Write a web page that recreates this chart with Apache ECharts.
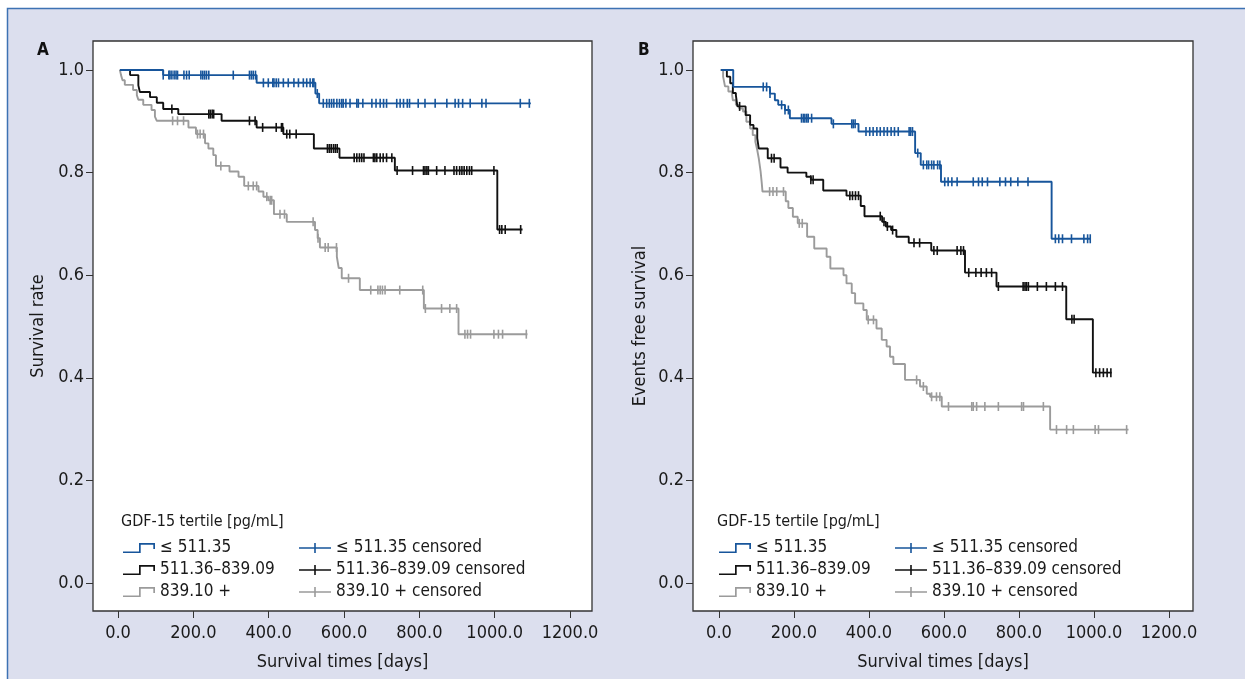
<!DOCTYPE html>
<html>
<head>
<meta charset="utf-8">
<script src="https://cdn.jsdelivr.net/npm/echarts@6/dist/echarts.min.js"></script>
<style>
  html, body { margin: 0; padding: 0; background: #fff; }
  #main { width: 1245px; height: 679px; }
</style>
</head>
<body>
<div id="main"></div>
<script>
var FONT = '"DejaVu Sans Condensed", "Liberation Sans Narrow", "DejaVu Sans", sans-serif';

// group names
var groups = ['≤ 511.35', '511.36–839.09', '839.10 +'];
var groupColors = ['#17559b', '#111111', '#9b9b9b'];
var xTicks = [0, 200, 400, 600, 800, 1000, 1200];
var yTicks = [0, 0.2, 0.4, 0.6, 0.8, 1.0];

// ---- panel A: survival rate ----
var aBlueT = [5, 120, 368, 524, 534];
var aBlueS = [1.0, 0.990, 0.975, 0.954, 0.935];
var aBlueEnd = 1096;
var aBlueCens = [120, 135, 138, 143, 149, 154, 158, 175, 182, 189, 220, 225, 230, 235, 241, 306, 349, 354, 359, 365,
  386, 399, 411, 414, 420, 426, 439, 452, 467, 479, 492, 501, 510, 517, 520, 529, 545, 554, 561, 567, 573, 581, 588,
  594, 598, 605, 616, 634, 638, 650, 674, 685, 696, 705, 713, 740, 749, 758, 768, 774, 797, 815, 842, 873, 895, 904,
  915, 935, 966, 977, 1068, 1092];

var aBlackT = [5, 32, 54, 58, 85, 103, 120, 160, 275, 368, 439, 520, 588, 735, 1007];
var aBlackS = [1.0, 0.990, 0.970, 0.957, 0.947, 0.936, 0.924, 0.914, 0.901, 0.888, 0.875, 0.847, 0.829, 0.804, 0.689];
var aBlackEnd = 1074;
var aBlackCens = [143, 241, 245, 250, 254, 349, 364, 384, 420, 434, 437, 448, 456, 473, 556, 561, 566, 572, 577, 582,
  627, 634, 641, 647, 653, 678, 682, 687, 696, 704, 713, 727, 741, 782, 811, 815, 820, 824, 846, 868, 892, 899, 907,
  913, 919, 926, 933, 939, 998, 1013, 1019, 1028, 1069];

var aGrayT = [5, 8, 12, 18, 40, 50, 54, 67, 89, 98, 103, 187, 207, 231, 240, 253, 260, 296, 320, 335, 373, 386, 399,
  414, 448, 523, 530, 536, 581, 586, 594, 642, 812, 904];
var aGrayS = [1.0, 0.990, 0.980, 0.971, 0.961, 0.951, 0.942, 0.932, 0.922, 0.909, 0.901, 0.888, 0.875, 0.857, 0.847,
  0.834, 0.813, 0.802, 0.792, 0.774, 0.763, 0.753, 0.746, 0.719, 0.704, 0.688, 0.672, 0.654, 0.636, 0.614, 0.594,
  0.571, 0.535, 0.485];
var aGrayEnd = 1087;
var aGrayCens = [145, 158, 174, 211, 218, 227, 273, 346, 359, 368, 395, 404, 408, 430, 442, 518, 531, 550, 558, 580,
  612, 671, 690, 696, 702, 709, 748, 809, 816, 859, 881, 899, 921, 928, 936, 998, 1010, 1021, 1084];

// ---- panel B: events free survival ----
var bBlueT = [5, 38, 136, 149, 158, 176, 189, 300, 372, 523, 538, 592, 887];
var bBlueS = [1.0, 0.967, 0.954, 0.941, 0.932, 0.922, 0.906, 0.895, 0.880, 0.838, 0.815, 0.782, 0.671];
var bBlueEnd = 992;
var bBlueCens = [118, 127, 136, 167, 176, 185, 220, 225, 229, 234, 238, 247, 305, 354, 358, 363, 392, 402, 411, 421,
  430, 440, 449, 459, 468, 478, 507, 511, 516, 530, 545, 554, 559, 567, 573, 583, 589, 602, 611, 621, 635, 678, 692,
  702, 716, 749, 764, 778, 797, 824, 897, 906, 916, 940, 973, 983, 990];

var bBlackT = [5, 21, 30, 37, 45, 49, 71, 83, 92, 102, 106, 130, 164, 183, 233, 245, 278, 340, 378, 388, 435, 445,
  459, 473, 506, 566, 656, 740, 926, 997];
var bBlackS = [1.0, 0.987, 0.974, 0.955, 0.951, 0.929, 0.912, 0.893, 0.886, 0.867, 0.847, 0.828, 0.810, 0.800, 0.792,
  0.786, 0.765, 0.755, 0.735, 0.715, 0.704, 0.695, 0.688, 0.675, 0.663, 0.648, 0.605, 0.578, 0.514, 0.410];
var bBlackEnd = 1047;
var bBlackCens = [55, 140, 147, 245, 251, 349, 356, 364, 372, 430, 440, 449, 463, 520, 535, 573, 582, 635, 645, 652,
  666, 685, 699, 713, 727, 745, 811, 816, 820, 825, 849, 873, 897, 916, 941, 947, 1005, 1015, 1025, 1035, 1045];

var bGrayT = [5, 11, 16, 25, 35, 37, 45, 54, 64, 73, 83, 90, 97, 102, 106, 111, 114, 116, 178, 185, 197, 210, 235,
  254, 287, 297, 332, 340, 354, 363, 385, 394, 420, 434, 447, 456, 465, 496, 536, 554, 563, 594, 883];
var bGrayS = [1.0, 0.987, 0.968, 0.958, 0.951, 0.941, 0.932, 0.925, 0.919, 0.899, 0.886, 0.873, 0.860, 0.844, 0.828,
  0.802, 0.780, 0.763, 0.744, 0.731, 0.714, 0.701, 0.675, 0.652, 0.636, 0.613, 0.600, 0.584, 0.565, 0.545, 0.532,
  0.513, 0.496, 0.474, 0.461, 0.441, 0.427, 0.396, 0.383, 0.369, 0.363, 0.344, 0.299];
var bGrayEnd = 1092;
var bGrayCens = [135, 144, 154, 172, 214, 222, 398, 412, 527, 545, 567, 580, 589, 612, 674, 678, 687, 709, 745, 807,
  812, 865, 900, 927, 945, 1003, 1012, 1087];

// step curve points
function curve(T, S, end) {
  var pts = T.map(function (t, i) { return [t, S[i]]; });
  pts.push([end, S[S.length - 1]]);
  return pts;
}
// survival value of the curve at time t (for censor marks)
function survAt(T, S, t) {
  var v = S[0];
  for (var i = 0; i < T.length; i++) { if (T[i] <= t) v = S[i]; }
  return v;
}
function censPts(T, S, cens) {
  return cens.map(function (t) { return [t, survAt(T, S, t)]; });
}

var stepIcon = 'path://M0,8.4 L16,8.4 L16,0 L32,0 L32,6 L30.3,6 L30.3,1.7 L17.7,1.7 L17.7,10 L0,10 Z';
var crossIcon = 'path://M0,4.2 L15.2,4.2 L15.2,0 L16.8,0 L16.8,4.2 L32,4.2 L32,5.8 L16.8,5.8 L16.8,10 L15.2,10 L15.2,5.8 L0,5.8 Z';

var panels = [
  { left: 93, width: 499, xmin: -66.4, xmax: 1258.4, yname: 'Survival rate', nameGap: 46,
    curves: [[aGrayT, aGrayS, aGrayEnd, aGrayCens], [aBlackT, aBlackS, aBlackEnd, aBlackCens], [aBlueT, aBlueS, aBlueEnd, aBlueCens]] },
  { left: 693, width: 500, xmin: -69.3, xmax: 1264, yname: 'Events free survival', nameGap: 44,
    curves: [[bGrayT, bGrayS, bGrayEnd, bGrayCens], [bBlackT, bBlackS, bBlackEnd, bBlackCens], [bBlueT, bBlueS, bBlueEnd, bBlueCens]] }
];
var order = [2, 1, 0]; // curves listed gray, black, blue

var grid = [], xAxis = [], yAxis = [], series = [], legend = [];
panels.forEach(function (p, k) {
  grid.push({ left: p.left, top: 41, width: p.width, height: 570, show: true,
    backgroundColor: '#ffffff', borderColor: '#333333', borderWidth: 1.3 });
  xAxis.push({
    type: 'value', gridIndex: k, min: p.xmin, max: p.xmax,
    name: 'Survival times [days]', nameLocation: 'middle', nameGap: 42,
    nameTextStyle: { fontFamily: FONT, fontSize: 18, color: '#1a1a1a' },
    axisLine: { show: false, onZero: false },
    axisTick: { show: true, length: 7, customValues: xTicks, lineStyle: { color: '#333' } },
    axisLabel: { customValues: xTicks, margin: 13, fontFamily: FONT, fontSize: 18, color: '#1a1a1a',
      formatter: function (v) { return v.toFixed(1); } },
    splitLine: { show: false }
  });
  yAxis.push({
    type: 'value', gridIndex: k, min: -0.0546, max: 1.0565,
    name: p.yname, nameLocation: 'middle', nameGap: p.nameGap,
    nameTextStyle: { fontFamily: FONT, fontSize: 18, color: '#1a1a1a' },
    axisLine: { show: false, onZero: false },
    axisTick: { show: true, length: 7, customValues: yTicks, lineStyle: { color: '#333' } },
    axisLabel: { customValues: yTicks, margin: 9, fontFamily: FONT, fontSize: 18, color: '#1a1a1a',
      formatter: function (v) { return v.toFixed(1); } },
    splitLine: { show: false }
  });
  p.curves.forEach(function (c, j) {
    var g = order[j];
    series.push({
      name: groups[g], type: 'line', step: 'end', xAxisIndex: k, yAxisIndex: k,
      showSymbol: false, symbol: 'none', color: groupColors[g],
      lineStyle: { color: groupColors[g], width: 1.9 },
      data: curve(c[0], c[1], c[2]), z: 2 + j
    });
    series.push({
      name: groups[g] + ' censored', type: 'scatter', xAxisIndex: k, yAxisIndex: k,
      symbol: 'rect', symbolSize: [1.6, 9], color: groupColors[g],
      itemStyle: { color: groupColors[g], opacity: 1 },
      data: censPts(c[0], c[1], c[3]), z: 2 + j
    });
  });
  var dx = k === 0 ? 0 : 596;
  var common = { orient: 'vertical', top: 539, itemWidth: 32, itemHeight: 10, itemGap: 4, padding: 0,
    selectedMode: false, itemStyle: { borderWidth: 0, opacity: 1 },
    textStyle: { fontFamily: FONT, fontSize: 17, color: '#1a1a1a', lineHeight: 18 } };
  legend.push(Object.assign({}, common, { left: 123 + dx,
    data: groups.map(function (n) { return { name: n, icon: stepIcon }; }) }));
  legend.push(Object.assign({}, common, { left: 299 + dx,
    data: groups.map(function (n) { return { name: n + ' censored', icon: crossIcon }; }) }));
});

var option = {
  animation: false,
  backgroundColor: '#ffffff',
  title: [
    { text: 'A', left: 37, top: 42, padding: 0, textStyle: { fontFamily: FONT, fontSize: 17, fontWeight: 'bold', color: '#111' } },
    { text: 'B', left: 638, top: 42, padding: 0, textStyle: { fontFamily: FONT, fontSize: 17, fontWeight: 'bold', color: '#111' } },
    { text: 'GDF-15 tertile [pg/mL]', left: 121, top: 514, padding: 0, textStyle: { fontFamily: FONT, fontSize: 16, fontWeight: 'normal', color: '#1a1a1a' } },
    { text: 'GDF-15 tertile [pg/mL]', left: 717, top: 514, padding: 0, textStyle: { fontFamily: FONT, fontSize: 16, fontWeight: 'normal', color: '#1a1a1a' } }
  ],
  graphic: [{
    type: 'rect', z: -10, silent: true,
    shape: { x: 7.5, y: 8.5, width: 1250, height: 690 },
    style: { fill: '#dcdfee', stroke: '#3d72b3', lineWidth: 1.5 }
  }],
  grid: grid,
  xAxis: xAxis,
  yAxis: yAxis,
  legend: legend,
  series: series
};

var chart = echarts.init(document.getElementById('main'));
chart.setOption(option);
</script>
</body>
</html>
